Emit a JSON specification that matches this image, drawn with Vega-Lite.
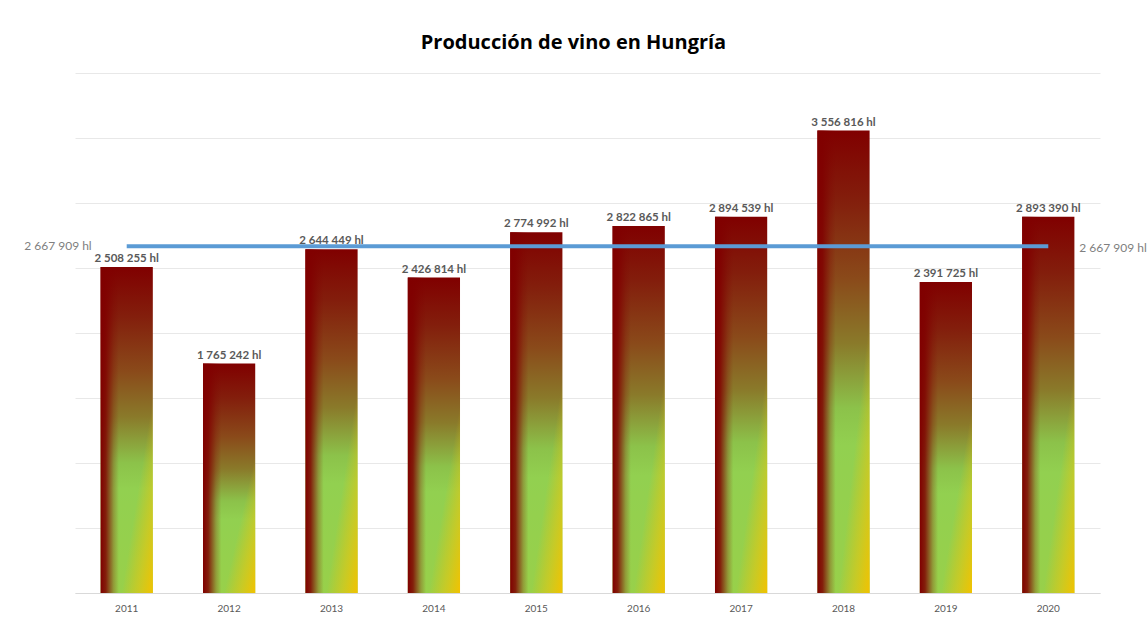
{
  "$schema": "https://vega.github.io/schema/vega-lite/v6.json",
  "autosize": {"type": "none"},
  "width": 1025,
  "height": 520,
  "padding": {"left": 75, "top": 73, "right": 47, "bottom": 28},
  "background": "#ffffff",
  "config": {"view": {"stroke": null}},
  "title": {"text": "Producción de vino en Hungría", "font": "Open Sans", "fontSize": 20, "fontWeight": "bold", "color": "#000000", "anchor": "middle", "dx": -14, "baseline": "alphabetic", "offset": 22, "dy": 18},
  "data": {"values": [
    {"year": "2011", "hl": 2508255},
    {"year": "2012", "hl": 1765242},
    {"year": "2013", "hl": 2644449},
    {"year": "2014", "hl": 2426814},
    {"year": "2015", "hl": 2774992},
    {"year": "2016", "hl": 2822865},
    {"year": "2017", "hl": 2894539},
    {"year": "2018", "hl": 3556816},
    {"year": "2019", "hl": 2391725},
    {"year": "2020", "hl": 2893390}
  ]},
  "transform": [
    {"joinaggregate": [{"op": "mean", "field": "hl", "as": "avg"}]},
    {"calculate": "replace(replace(format(datum.hl, ','), ',', ' '), ',', ' ') + ' hl'", "as": "label"},
    {"calculate": "replace(replace(format(round(datum.avg), ','), ',', ' '), ',', ' ') + ' hl'", "as": "avgLabel"}
  ],
  "encoding": {
    "x": {"field": "year", "type": "nominal", "scale": {"paddingInner": 0.49, "paddingOuter": 0.25},
      "axis": {"title": null, "labelAngle": 0, "ticks": false, "labelFont": "Lato", "labelFontSize": 10, "labelColor": "#595959", "labelPadding": 10, "domainColor": "#d9d9d9", "domainWidth": 1}}
  },
  "layer": [
    {
      "mark": {"type": "bar", "color": {"gradient": "linear", "x1": 0, "y1": 0, "x2": 0, "y2": 1, "stops": [
        {"offset": 0, "color": "#800000"},
        {"offset": 0.15, "color": "#831e0c"},
        {"offset": 0.32, "color": "#8a4a1a"},
        {"offset": 0.46, "color": "#8a7a2a"},
        {"offset": 0.6, "color": "#8cc24a"},
        {"offset": 0.68, "color": "#92d050"},
        {"offset": 1, "color": "#98d04a"}
      ]}},
      "encoding": {
        "y": {"field": "hl", "type": "quantitative", "scale": {"domain": [0, 4000000], "nice": false},
          "axis": {"title": null, "labels": false, "ticks": false, "domain": false, "values": [0, 500000, 1000000, 1500000, 2000000, 2500000, 3000000, 3500000, 4000000], "gridColor": "#e8e8e8", "gridWidth": 1}}
      }
    },
    {
      "mark": {"type": "bar", "color": {"gradient": "linear", "x1": 0, "y1": 0, "x2": 1, "y2": 1, "stops": [
        {"offset": 0, "color": "rgba(242,194,0,0)"},
        {"offset": 0.7, "color": "rgba(242,194,0,0)"},
        {"offset": 0.85, "color": "rgba(236,198,10,0.55)"},
        {"offset": 1, "color": "rgba(242,194,0,1)"}
      ]}},
      "encoding": {"y": {"field": "hl", "type": "quantitative"}}
    },
    {
      "mark": {"type": "bar", "color": {"gradient": "linear", "x1": 0, "y1": 0, "x2": 1, "y2": 0, "stops": [
        {"offset": 0, "color": "rgba(128,0,0,1)"},
        {"offset": 0.1, "color": "rgba(128,0,0,0.85)"},
        {"offset": 0.25, "color": "rgba(128,0,0,0.25)"},
        {"offset": 0.35, "color": "rgba(128,0,0,0)"},
        {"offset": 1, "color": "rgba(128,0,0,0)"}
      ]}},
      "encoding": {"y": {"field": "hl", "type": "quantitative"}}
    },
    {
      "mark": {"type": "text", "baseline": "bottom", "dy": -3, "font": "Lato", "fontSize": 11.5, "fontWeight": "bold", "color": "#595959"},
      "encoding": {"y": {"field": "hl", "type": "quantitative"}, "text": {"field": "label"}}
    },
    {
      "mark": {"type": "line", "color": "#5b9bd5", "strokeWidth": 4},
      "encoding": {"y": {"field": "avg", "type": "quantitative"}}
    },
    {
      "transform": [{"filter": "datum.year == '2011'"}],
      "mark": {"type": "text", "align": "right", "baseline": "middle", "dx": -35, "dy": 0, "font": "Lato", "fontSize": 12, "color": "#808080"},
      "encoding": {"y": {"field": "avg", "type": "quantitative"}, "text": {"field": "avgLabel"}}
    },
    {
      "transform": [{"filter": "datum.year == '2020'"}],
      "mark": {"type": "text", "align": "left", "baseline": "middle", "dx": 31, "dy": 2, "font": "Lato", "fontSize": 12, "color": "#808080"},
      "encoding": {"y": {"field": "avg", "type": "quantitative"}, "text": {"field": "avgLabel"}}
    }
  ]
}
